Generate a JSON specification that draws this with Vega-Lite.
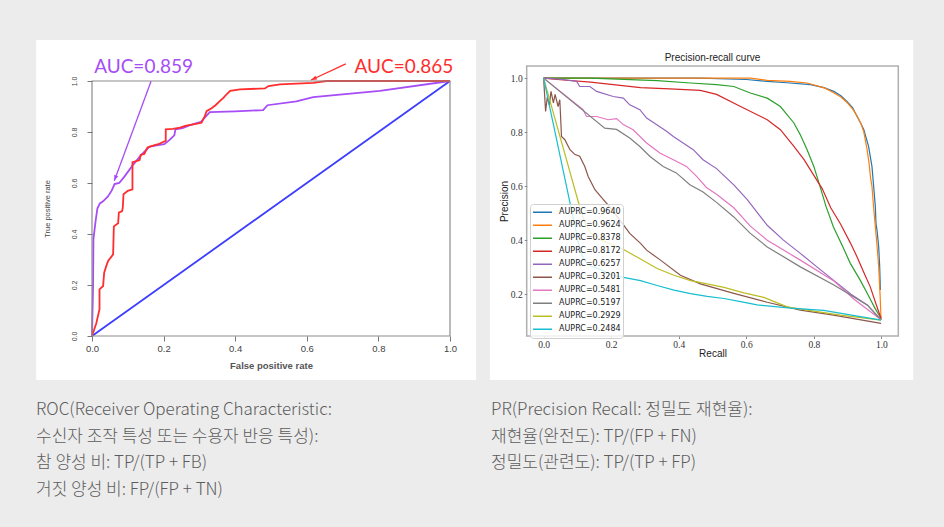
{
  "$schema": "https://vega.github.io/schema/vega-lite/v6.json",
  "width": 944,
  "height": 527,
  "padding": 0,
  "autosize": "none",
  "background": "#ececec",
  "config": {"view": {"stroke": null}},
  "datasets": {
    "roc": [
      {"curve":"chance","fpr":0,"tpr":0},{"curve":"chance","fpr":1,"tpr":1},
      {"curve":"A","fpr":0,"tpr":0},{"curve":"A","fpr":0.002,"tpr":0.13},{"curve":"A","fpr":0.003,"tpr":0.2},{"curve":"A","fpr":0.004,"tpr":0.38},{"curve":"A","fpr":0.01,"tpr":0.45},{"curve":"A","fpr":0.015,"tpr":0.5},{"curve":"A","fpr":0.022,"tpr":0.52},{"curve":"A","fpr":0.03,"tpr":0.527},{"curve":"A","fpr":0.044,"tpr":0.546},{"curve":"A","fpr":0.055,"tpr":0.57},{"curve":"A","fpr":0.063,"tpr":0.596},{"curve":"A","fpr":0.076,"tpr":0.6},{"curve":"A","fpr":0.09,"tpr":0.624},{"curve":"A","fpr":0.114,"tpr":0.67},{"curve":"A","fpr":0.137,"tpr":0.709},{"curve":"A","fpr":0.16,"tpr":0.742},{"curve":"A","fpr":0.18,"tpr":0.748},{"curve":"A","fpr":0.202,"tpr":0.752},{"curve":"A","fpr":0.216,"tpr":0.768},{"curve":"A","fpr":0.23,"tpr":0.787},{"curve":"A","fpr":0.233,"tpr":0.81},{"curve":"A","fpr":0.253,"tpr":0.815},{"curve":"A","fpr":0.272,"tpr":0.826},{"curve":"A","fpr":0.304,"tpr":0.84},{"curve":"A","fpr":0.315,"tpr":0.856},{"curve":"A","fpr":0.329,"tpr":0.878},{"curve":"A","fpr":0.4,"tpr":0.881},{"curve":"A","fpr":0.478,"tpr":0.886},{"curve":"A","fpr":0.49,"tpr":0.905},{"curve":"A","fpr":0.571,"tpr":0.92},{"curve":"A","fpr":0.618,"tpr":0.937},{"curve":"A","fpr":0.804,"tpr":0.961},{"curve":"A","fpr":1,"tpr":1},
      {"curve":"B","fpr":0,"tpr":0},{"curve":"B","fpr":0.012,"tpr":0.05},{"curve":"B","fpr":0.021,"tpr":0.105},{"curve":"B","fpr":0.021,"tpr":0.183},{"curve":"B","fpr":0.031,"tpr":0.196},{"curve":"B","fpr":0.034,"tpr":0.248},{"curve":"B","fpr":0.04,"tpr":0.275},{"curve":"B","fpr":0.045,"tpr":0.294},{"curve":"B","fpr":0.059,"tpr":0.32},{"curve":"B","fpr":0.061,"tpr":0.43},{"curve":"B","fpr":0.073,"tpr":0.442},{"curve":"B","fpr":0.075,"tpr":0.484},{"curve":"B","fpr":0.084,"tpr":0.49},{"curve":"B","fpr":0.086,"tpr":0.503},{"curve":"B","fpr":0.088,"tpr":0.556},{"curve":"B","fpr":0.1,"tpr":0.569},{"curve":"B","fpr":0.113,"tpr":0.575},{"curve":"B","fpr":0.113,"tpr":0.682},{"curve":"B","fpr":0.124,"tpr":0.686},{"curve":"B","fpr":0.133,"tpr":0.69},{"curve":"B","fpr":0.136,"tpr":0.71},{"curve":"B","fpr":0.146,"tpr":0.714},{"curve":"B","fpr":0.155,"tpr":0.739},{"curve":"B","fpr":0.166,"tpr":0.745},{"curve":"B","fpr":0.185,"tpr":0.752},{"curve":"B","fpr":0.194,"tpr":0.758},{"curve":"B","fpr":0.206,"tpr":0.765},{"curve":"B","fpr":0.206,"tpr":0.81},{"curve":"B","fpr":0.226,"tpr":0.812},{"curve":"B","fpr":0.246,"tpr":0.817},{"curve":"B","fpr":0.26,"tpr":0.824},{"curve":"B","fpr":0.283,"tpr":0.83},{"curve":"B","fpr":0.306,"tpr":0.836},{"curve":"B","fpr":0.315,"tpr":0.862},{"curve":"B","fpr":0.32,"tpr":0.882},{"curve":"B","fpr":0.334,"tpr":0.893},{"curve":"B","fpr":0.345,"tpr":0.905},{"curve":"B","fpr":0.357,"tpr":0.921},{"curve":"B","fpr":0.367,"tpr":0.934},{"curve":"B","fpr":0.376,"tpr":0.948},{"curve":"B","fpr":0.386,"tpr":0.961},{"curve":"B","fpr":0.413,"tpr":0.967},{"curve":"B","fpr":0.483,"tpr":0.971},{"curve":"B","fpr":0.493,"tpr":0.98},{"curve":"B","fpr":0.525,"tpr":0.987},{"curve":"B","fpr":0.618,"tpr":0.993},{"curve":"B","fpr":0.655,"tpr":1},{"curve":"B","fpr":1,"tpr":1}
    ],
    "annot": [
      {"curve":"A","label":"AUC=0.859","tx":0.006,"ty":1.03,"x":0.165,"y":0.999,"x2":0.0623,"y2":0.609},
      {"curve":"B","label":"AUC=0.865","tx":0.733,"ty":1.03,"x":0.709,"y":1.067,"x2":0.612,"y2":1.004}
    ],
    "pr": [
      {"curve":"AUPRC=0.9640","recall":0,"precision":1},{"curve":"AUPRC=0.9640","recall":0.3,"precision":1},{"curve":"AUPRC=0.9640","recall":0.464,"precision":1},{"curve":"AUPRC=0.9640","recall":0.6,"precision":0.995},{"curve":"AUPRC=0.9640","recall":0.662,"precision":0.988},{"curve":"AUPRC=0.9640","recall":0.72,"precision":0.983},{"curve":"AUPRC=0.9640","recall":0.79,"precision":0.976},{"curve":"AUPRC=0.9640","recall":0.83,"precision":0.965},{"curve":"AUPRC=0.9640","recall":0.859,"precision":0.951},{"curve":"AUPRC=0.9640","recall":0.88,"precision":0.935},{"curve":"AUPRC=0.9640","recall":0.898,"precision":0.914},{"curve":"AUPRC=0.9640","recall":0.915,"precision":0.89},{"curve":"AUPRC=0.9640","recall":0.928,"precision":0.858},{"curve":"AUPRC=0.9640","recall":0.94,"precision":0.83},{"curve":"AUPRC=0.9640","recall":0.948,"precision":0.809},{"curve":"AUPRC=0.9640","recall":0.962,"precision":0.747},{"curve":"AUPRC=0.9640","recall":0.972,"precision":0.673},{"curve":"AUPRC=0.9640","recall":0.977,"precision":0.6},{"curve":"AUPRC=0.9640","recall":0.982,"precision":0.525},{"curve":"AUPRC=0.9640","recall":0.984,"precision":0.46},{"curve":"AUPRC=0.9640","recall":0.987,"precision":0.437},{"curve":"AUPRC=0.9640","recall":0.992,"precision":0.375},{"curve":"AUPRC=0.9640","recall":0.995,"precision":0.3},{"curve":"AUPRC=0.9640","recall":0.997,"precision":0.215},
      {"curve":"AUPRC=0.9624","recall":0,"precision":1},{"curve":"AUPRC=0.9624","recall":0.3,"precision":1},{"curve":"AUPRC=0.9624","recall":0.612,"precision":1},{"curve":"AUPRC=0.9624","recall":0.662,"precision":0.992},{"curve":"AUPRC=0.9624","recall":0.73,"precision":0.988},{"curve":"AUPRC=0.9624","recall":0.78,"precision":0.982},{"curve":"AUPRC=0.9624","recall":0.833,"precision":0.963},{"curve":"AUPRC=0.9624","recall":0.86,"precision":0.945},{"curve":"AUPRC=0.9624","recall":0.88,"precision":0.93},{"curve":"AUPRC=0.9624","recall":0.898,"precision":0.91},{"curve":"AUPRC=0.9624","recall":0.915,"precision":0.885},{"curve":"AUPRC=0.9624","recall":0.928,"precision":0.86},{"curve":"AUPRC=0.9624","recall":0.94,"precision":0.83},{"curve":"AUPRC=0.9624","recall":0.948,"precision":0.8},{"curve":"AUPRC=0.9624","recall":0.957,"precision":0.74},{"curve":"AUPRC=0.9624","recall":0.963,"precision":0.69},{"curve":"AUPRC=0.9624","recall":0.968,"precision":0.63},{"curve":"AUPRC=0.9624","recall":0.972,"precision":0.6},{"curve":"AUPRC=0.9624","recall":0.977,"precision":0.52},{"curve":"AUPRC=0.9624","recall":0.982,"precision":0.45},{"curve":"AUPRC=0.9624","recall":0.987,"precision":0.38},{"curve":"AUPRC=0.9624","recall":0.992,"precision":0.3},{"curve":"AUPRC=0.9624","recall":0.996,"precision":0.2},{"curve":"AUPRC=0.9624","recall":0.999,"precision":0.105},
      {"curve":"AUPRC=0.8378","recall":0,"precision":1},{"curve":"AUPRC=0.8378","recall":0.139,"precision":1},{"curve":"AUPRC=0.8378","recall":0.336,"precision":0.991},{"curve":"AUPRC=0.8378","recall":0.435,"precision":0.982},{"curve":"AUPRC=0.8378","recall":0.512,"precision":0.976},{"curve":"AUPRC=0.8378","recall":0.563,"precision":0.969},{"curve":"AUPRC=0.8378","recall":0.612,"precision":0.945},{"curve":"AUPRC=0.8378","recall":0.662,"precision":0.926},{"curve":"AUPRC=0.8378","recall":0.701,"precision":0.895},{"curve":"AUPRC=0.8378","recall":0.741,"precision":0.834},{"curve":"AUPRC=0.8378","recall":0.76,"precision":0.79},{"curve":"AUPRC=0.8378","recall":0.78,"precision":0.735},{"curve":"AUPRC=0.8378","recall":0.8,"precision":0.673},{"curve":"AUPRC=0.8378","recall":0.818,"precision":0.6},{"curve":"AUPRC=0.8378","recall":0.836,"precision":0.525},{"curve":"AUPRC=0.8378","recall":0.858,"precision":0.449},{"curve":"AUPRC=0.8378","recall":0.884,"precision":0.38},{"curve":"AUPRC=0.8378","recall":0.908,"precision":0.314},{"curve":"AUPRC=0.8378","recall":0.938,"precision":0.25},{"curve":"AUPRC=0.8378","recall":0.958,"precision":0.203},{"curve":"AUPRC=0.8378","recall":0.98,"precision":0.15},{"curve":"AUPRC=0.8378","recall":0.999,"precision":0.11},
      {"curve":"AUPRC=0.8172","recall":0,"precision":1},{"curve":"AUPRC=0.8172","recall":0.04,"precision":0.995},{"curve":"AUPRC=0.8172","recall":0.139,"precision":0.985},{"curve":"AUPRC=0.8172","recall":0.287,"precision":0.965},{"curve":"AUPRC=0.8172","recall":0.374,"precision":0.96},{"curve":"AUPRC=0.8172","recall":0.464,"precision":0.955},{"curve":"AUPRC=0.8172","recall":0.512,"precision":0.94},{"curve":"AUPRC=0.8172","recall":0.583,"precision":0.895},{"curve":"AUPRC=0.8172","recall":0.662,"precision":0.846},{"curve":"AUPRC=0.8172","recall":0.701,"precision":0.809},{"curve":"AUPRC=0.8172","recall":0.741,"precision":0.747},{"curve":"AUPRC=0.8172","recall":0.771,"precision":0.698},{"curve":"AUPRC=0.8172","recall":0.8,"precision":0.64},{"curve":"AUPRC=0.8172","recall":0.825,"precision":0.59},{"curve":"AUPRC=0.8172","recall":0.85,"precision":0.52},{"curve":"AUPRC=0.8172","recall":0.879,"precision":0.46},{"curve":"AUPRC=0.8172","recall":0.908,"precision":0.39},{"curve":"AUPRC=0.8172","recall":0.928,"precision":0.338},{"curve":"AUPRC=0.8172","recall":0.948,"precision":0.28},{"curve":"AUPRC=0.8172","recall":0.967,"precision":0.227},{"curve":"AUPRC=0.8172","recall":0.985,"precision":0.16},{"curve":"AUPRC=0.8172","recall":0.999,"precision":0.11},
      {"curve":"AUPRC=0.6257","recall":0,"precision":1},{"curve":"AUPRC=0.6257","recall":0.058,"precision":0.995},{"curve":"AUPRC=0.6257","recall":0.098,"precision":0.988},{"curve":"AUPRC=0.6257","recall":0.107,"precision":0.969},{"curve":"AUPRC=0.6257","recall":0.137,"precision":0.969},{"curve":"AUPRC=0.6257","recall":0.157,"precision":0.951},{"curve":"AUPRC=0.6257","recall":0.206,"precision":0.932},{"curve":"AUPRC=0.6257","recall":0.236,"precision":0.926},{"curve":"AUPRC=0.6257","recall":0.255,"precision":0.901},{"curve":"AUPRC=0.6257","recall":0.285,"precision":0.883},{"curve":"AUPRC=0.6257","recall":0.305,"precision":0.852},{"curve":"AUPRC=0.6257","recall":0.334,"precision":0.828},{"curve":"AUPRC=0.6257","recall":0.364,"precision":0.803},{"curve":"AUPRC=0.6257","recall":0.384,"precision":0.784},{"curve":"AUPRC=0.6257","recall":0.413,"precision":0.76},{"curve":"AUPRC=0.6257","recall":0.443,"precision":0.735},{"curve":"AUPRC=0.6257","recall":0.472,"precision":0.698},{"curve":"AUPRC=0.6257","recall":0.512,"precision":0.665},{"curve":"AUPRC=0.6257","recall":0.563,"precision":0.605},{"curve":"AUPRC=0.6257","recall":0.603,"precision":0.55},{"curve":"AUPRC=0.6257","recall":0.662,"precision":0.455},{"curve":"AUPRC=0.6257","recall":0.71,"precision":0.4},{"curve":"AUPRC=0.6257","recall":0.76,"precision":0.351},{"curve":"AUPRC=0.6257","recall":0.81,"precision":0.3},{"curve":"AUPRC=0.6257","recall":0.858,"precision":0.252},{"curve":"AUPRC=0.6257","recall":0.91,"precision":0.2},{"curve":"AUPRC=0.6257","recall":0.958,"precision":0.16},{"curve":"AUPRC=0.6257","recall":0.999,"precision":0.105},
      {"curve":"AUPRC=0.3201","recall":0,"precision":1},{"curve":"AUPRC=0.3201","recall":0.006,"precision":0.877},{"curve":"AUPRC=0.3201","recall":0.011,"precision":0.93},{"curve":"AUPRC=0.3201","recall":0.017,"precision":0.9},{"curve":"AUPRC=0.3201","recall":0.022,"precision":0.951},{"curve":"AUPRC=0.3201","recall":0.029,"precision":0.908},{"curve":"AUPRC=0.3201","recall":0.034,"precision":0.94},{"curve":"AUPRC=0.3201","recall":0.043,"precision":0.895},{"curve":"AUPRC=0.3201","recall":0.048,"precision":0.92},{"curve":"AUPRC=0.3201","recall":0.053,"precision":0.784},{"curve":"AUPRC=0.3201","recall":0.063,"precision":0.772},{"curve":"AUPRC=0.3201","recall":0.078,"precision":0.735},{"curve":"AUPRC=0.3201","recall":0.093,"precision":0.717},{"curve":"AUPRC=0.3201","recall":0.107,"precision":0.711},{"curve":"AUPRC=0.3201","recall":0.122,"precision":0.673},{"curve":"AUPRC=0.3201","recall":0.132,"precision":0.636},{"curve":"AUPRC=0.3201","recall":0.152,"precision":0.587},{"curve":"AUPRC=0.3201","recall":0.177,"precision":0.55},{"curve":"AUPRC=0.3201","recall":0.196,"precision":0.523},{"curve":"AUPRC=0.3201","recall":0.226,"precision":0.474},{"curve":"AUPRC=0.3201","recall":0.255,"precision":0.425},{"curve":"AUPRC=0.3201","recall":0.287,"precision":0.388},{"curve":"AUPRC=0.3201","recall":0.305,"precision":0.363},{"curve":"AUPRC=0.3201","recall":0.346,"precision":0.326},{"curve":"AUPRC=0.3201","recall":0.405,"precision":0.27},{"curve":"AUPRC=0.3201","recall":0.464,"precision":0.238},{"curve":"AUPRC=0.3201","recall":0.563,"precision":0.203},{"curve":"AUPRC=0.3201","recall":0.662,"precision":0.17},{"curve":"AUPRC=0.3201","recall":0.76,"precision":0.141},{"curve":"AUPRC=0.3201","recall":0.858,"precision":0.122},{"curve":"AUPRC=0.3201","recall":0.999,"precision":0.092},
      {"curve":"AUPRC=0.5481","recall":0,"precision":1},{"curve":"AUPRC=0.5481","recall":0.117,"precision":0.883},{"curve":"AUPRC=0.5481","recall":0.127,"precision":0.858},{"curve":"AUPRC=0.5481","recall":0.157,"precision":0.858},{"curve":"AUPRC=0.5481","recall":0.191,"precision":0.846},{"curve":"AUPRC=0.5481","recall":0.216,"precision":0.85},{"curve":"AUPRC=0.5481","recall":0.236,"precision":0.828},{"curve":"AUPRC=0.5481","recall":0.265,"precision":0.809},{"curve":"AUPRC=0.5481","recall":0.305,"precision":0.76},{"curve":"AUPRC=0.5481","recall":0.344,"precision":0.723},{"curve":"AUPRC=0.5481","recall":0.384,"precision":0.698},{"curve":"AUPRC=0.5481","recall":0.423,"precision":0.673},{"curve":"AUPRC=0.5481","recall":0.453,"precision":0.636},{"curve":"AUPRC=0.5481","recall":0.482,"precision":0.595},{"curve":"AUPRC=0.5481","recall":0.512,"precision":0.57},{"curve":"AUPRC=0.5481","recall":0.563,"precision":0.52},{"curve":"AUPRC=0.5481","recall":0.612,"precision":0.452},{"curve":"AUPRC=0.5481","recall":0.662,"precision":0.4},{"curve":"AUPRC=0.5481","recall":0.76,"precision":0.326},{"curve":"AUPRC=0.5481","recall":0.858,"precision":0.25},{"curve":"AUPRC=0.5481","recall":0.92,"precision":0.18},{"curve":"AUPRC=0.5481","recall":0.999,"precision":0.105},
      {"curve":"AUPRC=0.5197","recall":0,"precision":1},{"curve":"AUPRC=0.5197","recall":0.181,"precision":0.815},{"curve":"AUPRC=0.5197","recall":0.216,"precision":0.81},{"curve":"AUPRC=0.5197","recall":0.255,"precision":0.778},{"curve":"AUPRC=0.5197","recall":0.285,"precision":0.747},{"curve":"AUPRC=0.5197","recall":0.315,"precision":0.71},{"curve":"AUPRC=0.5197","recall":0.354,"precision":0.673},{"curve":"AUPRC=0.5197","recall":0.393,"precision":0.649},{"curve":"AUPRC=0.5197","recall":0.433,"precision":0.605},{"curve":"AUPRC=0.5197","recall":0.472,"precision":0.578},{"curve":"AUPRC=0.5197","recall":0.512,"precision":0.54},{"curve":"AUPRC=0.5197","recall":0.563,"precision":0.486},{"curve":"AUPRC=0.5197","recall":0.612,"precision":0.425},{"curve":"AUPRC=0.5197","recall":0.662,"precision":0.375},{"curve":"AUPRC=0.5197","recall":0.76,"precision":0.301},{"curve":"AUPRC=0.5197","recall":0.858,"precision":0.235},{"curve":"AUPRC=0.5197","recall":0.958,"precision":0.16},{"curve":"AUPRC=0.5197","recall":0.999,"precision":0.105},
      {"curve":"AUPRC=0.2929","recall":0,"precision":1},{"curve":"AUPRC=0.2929","recall":0.11,"precision":0.51},{"curve":"AUPRC=0.2929","recall":0.125,"precision":0.455},{"curve":"AUPRC=0.2929","recall":0.14,"precision":0.425},{"curve":"AUPRC=0.2929","recall":0.17,"precision":0.4},{"curve":"AUPRC=0.2929","recall":0.2,"precision":0.385},{"curve":"AUPRC=0.2929","recall":0.237,"precision":0.365},{"curve":"AUPRC=0.2929","recall":0.287,"precision":0.33},{"curve":"AUPRC=0.2929","recall":0.336,"precision":0.295},{"curve":"AUPRC=0.2929","recall":0.386,"precision":0.27},{"curve":"AUPRC=0.2929","recall":0.435,"precision":0.25},{"curve":"AUPRC=0.2929","recall":0.484,"precision":0.238},{"curve":"AUPRC=0.2929","recall":0.534,"precision":0.225},{"curve":"AUPRC=0.2929","recall":0.593,"precision":0.205},{"curve":"AUPRC=0.2929","recall":0.652,"precision":0.188},{"curve":"AUPRC=0.2929","recall":0.672,"precision":0.178},{"curve":"AUPRC=0.2929","recall":0.721,"precision":0.153},{"curve":"AUPRC=0.2929","recall":0.78,"precision":0.141},{"curve":"AUPRC=0.2929","recall":0.879,"precision":0.122},{"curve":"AUPRC=0.2929","recall":0.999,"precision":0.104},
      {"curve":"AUPRC=0.2484","recall":0,"precision":1},{"curve":"AUPRC=0.2484","recall":0.105,"precision":0.38},{"curve":"AUPRC=0.2484","recall":0.115,"precision":0.34},{"curve":"AUPRC=0.2484","recall":0.13,"precision":0.31},{"curve":"AUPRC=0.2484","recall":0.17,"precision":0.29},{"curve":"AUPRC=0.2484","recall":0.206,"precision":0.27},{"curve":"AUPRC=0.2484","recall":0.236,"precision":0.262},{"curve":"AUPRC=0.2484","recall":0.287,"precision":0.25},{"curve":"AUPRC=0.2484","recall":0.336,"precision":0.232},{"curve":"AUPRC=0.2484","recall":0.386,"precision":0.215},{"curve":"AUPRC=0.2484","recall":0.435,"precision":0.202},{"curve":"AUPRC=0.2484","recall":0.484,"precision":0.192},{"curve":"AUPRC=0.2484","recall":0.534,"precision":0.184},{"curve":"AUPRC=0.2484","recall":0.583,"precision":0.172},{"curve":"AUPRC=0.2484","recall":0.632,"precision":0.16},{"curve":"AUPRC=0.2484","recall":0.731,"precision":0.148},{"curve":"AUPRC=0.2484","recall":0.829,"precision":0.14},{"curve":"AUPRC=0.2484","recall":0.999,"precision":0.104}
    ],
    "captions": [
      {"col":0,"line":1,"text":"ROC(Receiver Operating Characteristic:"},
      {"col":0,"line":2,"text":"수신자 조작 특성 또는 수용자 반응 특성):"},
      {"col":0,"line":3,"text":"참 양성 비: TP/(TP + FB)"},
      {"col":0,"line":4,"text":"거짓 양성 비: FP/(FP + TN)"},
      {"col":1,"line":1,"text":"PR(Precision Recall: 정밀도 재현율):"},
      {"col":1,"line":2,"text":"재현율(완전도): TP/(FP + FN)"},
      {"col":1,"line":3,"text":"정밀도(관련도): TP/(TP + FP)"}
    ]
  },
  "layer": [
    {
      "layer": [
        {
          "data": {"values": [{}]},
          "mark": {"type": "rect", "fill": "white"},
          "encoding": {
            "x": {"datum": -0.156, "type": "quantitative", "scale": {"domain": [0, 1], "range": [92, 450], "nice": false, "zero": false}},
            "x2": {"datum": 1.073},
            "y": {"datum": -0.173, "type": "quantitative", "scale": {"domain": [0, 1], "range": [336, 81], "nice": false, "zero": false}},
            "y2": {"datum": 1.161}
          }
        },
        {
          "data": {"name": "roc"},
          "mark": {"type": "line", "strokeWidth": 1.8},
          "encoding": {
            "x": {"field": "fpr", "type": "quantitative", "scale": {"domain": [0, 1], "range": [92, 450], "nice": false, "zero": false},
              "axis": {"orient": "bottom", "offset": -191, "zindex": 1, "values": [0, 0.2, 0.4, 0.6, 0.8, 1], "format": ".1f", "domain": false, "grid": false, "tickSize": 5, "tickColor": "#777", "labelFont": "Liberation Sans", "labelFontSize": 9.5, "labelColor": "#444", "labelPadding": 2, "labelFlush": false, "labelOverlap": false, "title": "False positive rate", "titleFont": "Liberation Sans", "titleFontSize": 9.5, "titleFontWeight": "bold", "titleColor": "#555", "titlePadding": 8}},
            "y": {"field": "tpr", "type": "quantitative", "scale": {"domain": [0, 1], "range": [336, 81], "nice": false, "zero": false},
              "axis": {"orient": "left", "offset": -92, "zindex": 1, "values": [0, 0.2, 0.4, 0.6, 0.8, 1], "format": ".1f", "domain": false, "grid": false, "tickSize": 5, "tickColor": "#777", "labelFont": "Liberation Sans", "labelFontSize": 7, "labelColor": "#444", "labelAngle": -90, "labelAlign": "center", "labelBaseline": "bottom", "labelPadding": 10, "labelFlush": false, "labelOverlap": false, "title": "True positive rate", "titleFont": "Liberation Sans", "titleFontSize": 7.5, "titleFontWeight": "normal", "titleColor": "#444", "titlePadding": 19}},
            "color": {"field": "curve", "type": "nominal", "scale": {"domain": ["B", "A", "chance"], "range": ["#ff2d2d", "#a64df6", "#3d3dff"]}, "legend": null},
            "order": {"value": null}
          }
        },
        {
          "data": {"values": [{}]},
          "mark": {"type": "rect", "fill": "white", "fillOpacity": 0, "stroke": "#8c8c8c", "strokeWidth": 1.2},
          "encoding": {
            "x": {"datum": 0, "type": "quantitative"},
            "x2": {"datum": 1},
            "y": {"datum": 0, "type": "quantitative"},
            "y2": {"datum": 1}
          }
        },
        {
          "data": {"name": "annot"},
          "mark": {"type": "rule", "strokeWidth": 1.3},
          "encoding": {
            "x": {"field": "x", "type": "quantitative"},
            "y": {"field": "y", "type": "quantitative"},
            "x2": {"field": "x2"},
            "y2": {"field": "y2"},
            "color": {"field": "curve", "type": "nominal", "legend": null}
          }
        },
        {
          "data": {"name": "annot"},
          "transform": [{"filter": "datum.curve == 'A'"}],
          "mark": {"type": "point", "filled": true, "opacity": 1, "size": 50, "angle": 200.3, "shape": "M0,0L0.6,1.6L-0.6,1.6Z"},
          "encoding": {
            "x": {"field": "x2", "type": "quantitative"},
            "y": {"field": "y2", "type": "quantitative"},
            "color": {"field": "curve", "type": "nominal", "legend": null}
          }
        },
        {
          "data": {"name": "annot"},
          "transform": [{"filter": "datum.curve == 'B'"}],
          "mark": {"type": "point", "filled": true, "opacity": 1, "size": 50, "angle": 245.4, "shape": "M0,0L0.6,1.6L-0.6,1.6Z"},
          "encoding": {
            "x": {"field": "x2", "type": "quantitative"},
            "y": {"field": "y2", "type": "quantitative"},
            "color": {"field": "curve", "type": "nominal", "legend": null}
          }
        },
        {
          "data": {"name": "annot"},
          "mark": {"type": "text", "align": "left", "baseline": "alphabetic", "font": "Lato", "fontSize": 19},
          "encoding": {
            "x": {"field": "tx", "type": "quantitative"},
            "y": {"field": "ty", "type": "quantitative"},
            "text": {"field": "label"},
            "color": {"field": "curve", "type": "nominal", "legend": null}
          }
        }
      ]
    },
    {
      "layer": [
        {
          "data": {"values": [{}]},
          "mark": {"type": "rect", "fill": "white"},
          "encoding": {
            "x": {"datum": -0.159, "type": "quantitative", "scale": {"domain": [-0.05, 1.05], "range": [526.7, 898.3], "nice": false, "zero": false}},
            "x2": {"datum": 1.094},
            "y": {"datum": -0.118, "type": "quantitative", "scale": {"domain": [0.045, 1.045], "range": [336, 66], "nice": false, "zero": false}},
            "y2": {"datum": 1.141}
          }
        },
        {
          "data": {"name": "pr"},
          "mark": {"type": "line", "strokeWidth": 1.2},
          "encoding": {
            "x": {"field": "recall", "type": "quantitative", "scale": {"domain": [-0.05, 1.05], "range": [526.7, 898.3], "nice": false, "zero": false},
              "axis": {"orient": "bottom", "offset": -191, "zindex": 1, "values": [0, 0.2, 0.4, 0.6, 0.8, 1], "format": ".1f", "domain": false, "grid": false, "tickSize": 2.5, "tickColor": "#888", "labelFont": "Liberation Serif", "labelFontSize": 9.5, "labelColor": "#333", "labelPadding": 0.5, "labelFlush": false, "labelOverlap": false, "title": "Recall", "titleFont": "Liberation Sans", "titleFontSize": 10, "titleFontWeight": "normal", "titleColor": "#222", "titlePadding": 0}},
            "y": {"field": "precision", "type": "quantitative", "scale": {"domain": [0.045, 1.045], "range": [336, 66], "nice": false, "zero": false},
              "axis": {"orient": "left", "offset": -526.7, "zindex": 1, "values": [0.2, 0.4, 0.6, 0.8, 1], "format": ".1f", "domain": false, "grid": false, "tickSize": 2.5, "tickColor": "#888", "labelFont": "Liberation Serif", "labelFontSize": 9.5, "labelColor": "#333", "labelPadding": 2, "labelFlush": false, "labelOverlap": false, "title": "Precision", "titleFont": "Liberation Sans", "titleFontSize": 10, "titleFontWeight": "normal", "titleColor": "#222", "titlePadding": 1}},
            "color": {"field": "curve", "type": "nominal",
              "scale": {"domain": ["AUPRC=0.9640", "AUPRC=0.9624", "AUPRC=0.8378", "AUPRC=0.8172", "AUPRC=0.6257", "AUPRC=0.3201", "AUPRC=0.5481", "AUPRC=0.5197", "AUPRC=0.2929", "AUPRC=0.2484"],
                "range": ["#1f77b4", "#ff7f0e", "#2ca02c", "#d62728", "#9467bd", "#8c564b", "#e377c2", "#7f7f7f", "#bcbd22", "#17becf"]},
              "legend": {"orient": "none", "legendX": 530, "legendY": 204, "zindex": 1, "title": null, "symbolType": "stroke", "symbolSize": 361, "symbolStrokeWidth": 1.5, "labelFont": "DejaVu Sans", "labelFontSize": 8, "labelColor": "#222", "labelOffset": 6, "padding": 2, "rowPadding": 0, "clipHeight": 12.3, "fillColor": "rgba(255,255,255,0.8)", "strokeColor": "#d0d0d0", "cornerRadius": 3}},
            "order": {"value": null}
          }
        },
        {
          "data": {"values": [{}]},
          "mark": {"type": "rect", "fill": "white", "fillOpacity": 0, "stroke": "#b0b0b0", "strokeWidth": 1.5},
          "encoding": {
            "x": {"datum": -0.05, "type": "quantitative"},
            "x2": {"datum": 1.05},
            "y": {"datum": 0.045, "type": "quantitative"},
            "y2": {"datum": 1.045}
          }
        },
        {
          "data": {"values": [{"title": "Precision-recall curve", "x": 0.5, "y": 1.073}]},
          "mark": {"type": "text", "align": "center", "baseline": "middle", "font": "Liberation Sans", "fontSize": 10, "color": "#222"},
          "encoding": {
            "x": {"field": "x", "type": "quantitative"},
            "y": {"field": "y", "type": "quantitative"},
            "text": {"field": "title"}
          }
        }
      ]
    },
    {
      "data": {"name": "captions"},
      "mark": {"type": "text", "align": "left", "baseline": "middle", "font": "Noto Sans CJK KR Light, Noto Sans CJK KR", "fontWeight": 300, "fontSize": 17, "color": "#5c5c5c"},
      "encoding": {
        "x": {"field": "col", "type": "quantitative", "scale": {"domain": [0, 1], "range": [36, 491]}, "axis": null},
        "y": {"field": "line", "type": "quantitative", "scale": {"domain": [1, 4], "range": [410, 490]}, "axis": null},
        "text": {"field": "text"}
      }
    }
  ],
  "resolve": {
    "scale": {"x": "independent", "y": "independent", "color": "independent"},
    "axis": {"x": "independent", "y": "independent"},
    "legend": {"color": "independent"}
  }
}
